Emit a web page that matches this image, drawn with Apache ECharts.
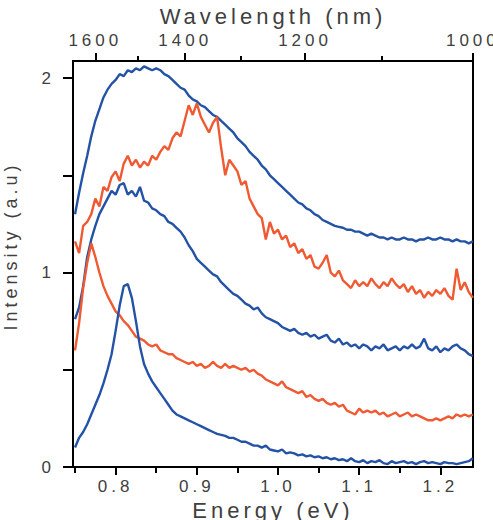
<!DOCTYPE html>
<html>
<head>
<meta charset="utf-8">
<script src="https://cdn.jsdelivr.net/npm/echarts@6.0.0/dist/echarts.min.js"></script>
<style>
  html, body { margin: 0; padding: 0; background: #fff; }
  #chart { width: 493px; height: 520px; }
  /* the figure's lettering is widely spaced */
  #chart text { letter-spacing: 4px; }
</style>
</head>
<body>
<div id="chart"></div>
<script>
// photon energy (eV), shared by all spectra
const energy = [
  0.750, 0.755, 0.760, 0.765, 0.770, 0.775, 0.780, 0.785, 0.790, 0.795,
  0.800, 0.805, 0.810, 0.815, 0.820, 0.825, 0.830, 0.835, 0.840, 0.845,
  0.850, 0.855, 0.860, 0.865, 0.870, 0.875, 0.880, 0.885, 0.890, 0.895,
  0.900, 0.905, 0.910, 0.915, 0.920, 0.925, 0.930, 0.935, 0.940, 0.945,
  0.950, 0.955, 0.960, 0.965, 0.970, 0.975, 0.980, 0.985, 0.990, 0.995,
  1.000, 1.005, 1.010, 1.015, 1.020, 1.025, 1.030, 1.035, 1.040, 1.045,
  1.050, 1.055, 1.060, 1.065, 1.070, 1.075, 1.080, 1.085, 1.090, 1.095,
  1.100, 1.105, 1.110, 1.115, 1.120, 1.125, 1.130, 1.135, 1.140, 1.145,
  1.150, 1.155, 1.160, 1.165, 1.170, 1.175, 1.180, 1.185, 1.190, 1.195,
  1.200, 1.205, 1.210, 1.215, 1.220, 1.225, 1.230, 1.235, 1.240
];

// spectra, top to bottom (offset in the figure)
const blueTop = [
  1.30, 1.41, 1.51, 1.60, 1.70, 1.78, 1.84, 1.90, 1.94, 1.97,
  1.99, 2.02, 2.01, 2.04, 2.03, 2.05, 2.04, 2.06, 2.05, 2.04,
  2.05, 2.04, 2.02, 2.01, 1.99, 1.97, 1.95, 1.94, 1.91, 1.89,
  1.88, 1.86, 1.85, 1.83, 1.81, 1.80, 1.78, 1.76, 1.74, 1.72,
  1.69, 1.67, 1.65, 1.62, 1.60, 1.58, 1.55, 1.53, 1.50, 1.48,
  1.46, 1.44, 1.42, 1.40, 1.38, 1.36, 1.35, 1.33, 1.32, 1.30,
  1.29, 1.27, 1.26, 1.25, 1.24, 1.235, 1.23, 1.22, 1.22, 1.21,
  1.21, 1.20, 1.19, 1.20, 1.19, 1.18, 1.18, 1.17, 1.18, 1.17,
  1.17, 1.18, 1.17, 1.17, 1.16, 1.17, 1.17, 1.18, 1.17, 1.17,
  1.18, 1.17, 1.17, 1.16, 1.17, 1.16, 1.16, 1.15, 1.16
];
const redTop = [
  1.16, 1.10, 1.24, 1.26, 1.30, 1.38, 1.34, 1.44, 1.42, 1.49,
  1.52, 1.47, 1.56, 1.60, 1.55, 1.58, 1.54, 1.57, 1.55, 1.60,
  1.58, 1.62, 1.65, 1.63, 1.69, 1.72, 1.70, 1.78, 1.86, 1.81,
  1.87, 1.80, 1.76, 1.72, 1.77, 1.80, 1.64, 1.50, 1.58, 1.55,
  1.52, 1.45, 1.47, 1.38, 1.34, 1.30, 1.28, 1.17, 1.26, 1.20,
  1.22, 1.17, 1.19, 1.13, 1.15, 1.10, 1.12, 1.07, 1.09, 1.03,
  1.02, 1.05, 1.09, 1.00, 0.98, 1.01, 0.96, 0.94, 0.92, 0.96,
  0.93, 0.95, 0.93, 0.97, 0.94, 0.92, 0.95, 0.93, 0.97, 0.94,
  0.92, 0.94, 0.90, 0.93, 0.89, 0.91, 0.87, 0.90, 0.88, 0.91,
  0.89, 0.92, 0.88, 0.86, 1.02, 0.91, 0.95, 0.90, 0.87
];
const blueMid = [
  0.76, 0.82, 0.93, 1.08, 1.17, 1.24, 1.30, 1.34, 1.38, 1.42,
  1.40, 1.45, 1.46, 1.40, 1.42, 1.39, 1.44, 1.37, 1.36, 1.33,
  1.32, 1.30, 1.29, 1.26, 1.25, 1.23, 1.21, 1.18, 1.14, 1.11,
  1.07, 1.05, 1.03, 1.01, 0.99, 0.98, 0.95, 0.93, 0.91, 0.89,
  0.88, 0.86, 0.84, 0.83, 0.81, 0.82, 0.79, 0.77, 0.76, 0.75,
  0.74, 0.72, 0.71, 0.70, 0.71, 0.69, 0.68, 0.69, 0.67, 0.68,
  0.66, 0.67, 0.68, 0.65, 0.64, 0.66, 0.63, 0.64, 0.62, 0.63,
  0.61, 0.63, 0.62, 0.60, 0.62, 0.61, 0.63, 0.60, 0.61, 0.62,
  0.60, 0.62, 0.61, 0.63, 0.61, 0.62, 0.66, 0.61, 0.60, 0.62,
  0.59, 0.61, 0.60, 0.62, 0.63, 0.61, 0.60, 0.58, 0.57
];
const redLow = [
  0.60, 0.74, 0.92, 1.05, 1.15, 1.08, 1.00, 0.93, 0.88, 0.84,
  0.80, 0.78, 0.75, 0.73, 0.70, 0.67, 0.66, 0.65, 0.63, 0.62,
  0.63, 0.60, 0.59, 0.58, 0.58, 0.56, 0.55, 0.54, 0.53, 0.54,
  0.52, 0.53, 0.51, 0.52, 0.54, 0.52, 0.51, 0.53, 0.51, 0.52,
  0.51, 0.50, 0.51, 0.49, 0.50, 0.48, 0.47, 0.45, 0.44, 0.43,
  0.42, 0.44, 0.41, 0.40, 0.39, 0.38, 0.39, 0.36, 0.37, 0.35,
  0.34, 0.35, 0.33, 0.32, 0.33, 0.31, 0.32, 0.29, 0.28, 0.27,
  0.30, 0.28, 0.29, 0.28, 0.29, 0.27, 0.28, 0.26, 0.27, 0.28,
  0.26, 0.27, 0.28, 0.26, 0.27, 0.26, 0.25, 0.24, 0.24, 0.25,
  0.24, 0.25, 0.26, 0.25, 0.27, 0.26, 0.27, 0.26, 0.27
];
const blueLow = [
  0.10, 0.15, 0.18, 0.22, 0.27, 0.32, 0.37, 0.43, 0.50, 0.58,
  0.70, 0.83, 0.93, 0.94, 0.87, 0.75, 0.62, 0.53, 0.48, 0.44,
  0.41, 0.38, 0.35, 0.32, 0.29, 0.27, 0.26, 0.25, 0.24, 0.23,
  0.22, 0.21, 0.20, 0.19, 0.18, 0.17, 0.165, 0.16, 0.15, 0.15,
  0.14, 0.13, 0.13, 0.12, 0.11, 0.11, 0.10, 0.11, 0.09, 0.085,
  0.08, 0.09, 0.07, 0.075, 0.07, 0.06, 0.065, 0.055, 0.06, 0.05,
  0.055, 0.045, 0.05, 0.04, 0.045, 0.035, 0.04, 0.03, 0.045, 0.03,
  0.025, 0.035, 0.02, 0.03, 0.025, 0.035, 0.02, 0.015, 0.03, 0.02,
  0.025, 0.03, 0.02, 0.025, 0.015, 0.025, 0.03, 0.02, 0.025, 0.02,
  0.015, 0.025, 0.02, 0.02, 0.015, 0.02, 0.025, 0.03, 0.045
];

// tick positions
const energyTicks = [0.8, 0.9, 1.0, 1.1, 1.2];
const energyMinor = [0.75, 0.85, 0.95, 1.05, 1.15];
const wavelengthTicks = [1600, 1400, 1200, 1000];
const wavelengthMinor = [1500, 1300, 1100];
const intensityTicks = [0, 1, 2];
const intensityMinor = [0, 0.5, 1, 1.5, 2];

const HC = 1240; // eV*nm
const xMin = 0.7475, xMax = 1.2402;
const blue = '#2352a6', red = '#f05a32';
const font = '"Liberation Sans", Arial, sans-serif';
const txt = '#404040';

const chart = echarts.init(document.getElementById('chart'), null, { renderer: 'svg' });

function xAx(pos, opts) {
  return Object.assign({
    type: 'value', position: pos, min: xMin, max: xMax,
    splitLine: { show: false },
    axisLine: { show: true, onZero: false, lineStyle: { color: '#000', width: 2 } },
    axisTick: { show: false },
    axisLabel: { show: false }
  }, opts);
}

const toEnergy = wl => HC / wl;

chart.setOption({
  animation: false,
  backgroundColor: '#fff',
  grid: {
    left: 73, right: 20, top: 61, bottom: 53,
    outerBoundsMode: 'none',
    show: true, borderColor: '#000', borderWidth: 2
  },
  xAxis: [
    xAx('bottom', {
      name: 'Energy (eV)', nameLocation: 'middle', nameGap: 30,
      nameTextStyle: { fontSize: 22, color: txt, fontFamily: font },
      axisTick: { show: true, inside: false, length: 8, lineStyle: { color: '#000', width: 2 }, customValues: energyTicks },
      axisLabel: { show: true, margin: 11, fontSize: 17, color: txt, fontFamily: font,
        customValues: energyTicks, formatter: v => v.toFixed(1) }
    }),
    xAx('bottom', {
      axisTick: { show: true, inside: false, length: 6, lineStyle: { color: '#000', width: 2 }, customValues: energyMinor }
    }),
    xAx('top', {
      name: 'Wavelength (nm)', nameLocation: 'middle', nameGap: 32,
      nameTextStyle: { fontSize: 22, color: txt, fontFamily: font },
      axisTick: { show: true, inside: false, length: 8, lineStyle: { color: '#000', width: 2 },
        customValues: wavelengthTicks.map(toEnergy) },
      axisLabel: { show: true, margin: 12, fontSize: 17, color: txt, fontFamily: font,
        customValues: wavelengthTicks.map(toEnergy), formatter: v => String(Math.round(HC / v)) }
    }),
    xAx('top', {
      axisTick: { show: true, inside: false, length: 5, lineStyle: { color: '#000', width: 2 },
        customValues: wavelengthMinor.map(toEnergy) }
    })
  ],
  yAxis: {
    type: 'value', min: 0, max: 2.0875,
    splitLine: { show: false },
    axisLine: { show: true, lineStyle: { color: '#000', width: 2 } },
    axisTick: { show: true, inside: false, length: 10, lineStyle: { color: '#000', width: 2 }, customValues: intensityMinor },
    axisLabel: { margin: 18, fontSize: 17, color: txt, fontFamily: font, customValues: intensityTicks }
  },
  graphic: [{
    type: 'text', x: 11, y: 246, rotation: Math.PI / 2,
    style: { text: 'Intensity (a.u)', fontSize: 18, fill: txt, fontFamily: font,
      align: 'center', verticalAlign: 'middle' }
  }],
  series: [
    ['blueTop', blueTop, blue],
    ['redTop', redTop, red],
    ['blueMid', blueMid, blue],
    ['redLow', redLow, red],
    ['blueLow', blueLow, blue]
  ].map(([name, vals, color]) => ({
    name, type: 'line', xAxisIndex: 0, showSymbol: false, symbol: 'none',
    data: energy.map((e, i) => [e, vals[i]]),
    lineStyle: { color, width: 2.4 }
  }))
});
</script>
</body>
</html>
